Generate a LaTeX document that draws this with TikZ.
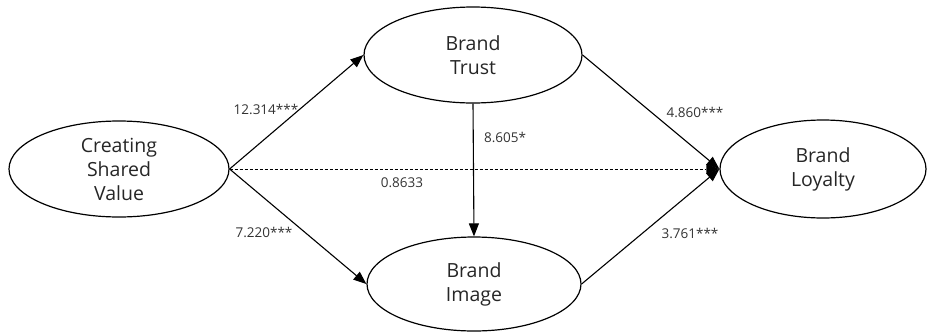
\documentclass[tikz,border=0pt]{standalone}
\usepackage{fontspec}
\setmainfont{Open Sans}
\usetikzlibrary{shapes.geometric,arrows.meta}
\begin{document}
\begin{tikzpicture}[x=1pt,y=-1pt,
  latent/.style={draw=black,line width=1.2pt,ellipse,inner sep=0pt,
    font=\fontsize{19.5}{24}\selectfont,text=black!85,align=center},
  path/.style={line width=1.1pt,-{Triangle[length=13pt,width=10pt]}},
  coef/.style={font=\fontsize{13.5}{15}\selectfont,text=black!80}]
\useasboundingbox (0,0) rectangle (927,333);
\node[latent,minimum width=220pt,minimum height=96pt] (csv) at (119,169) {Creating\\Shared\\Value};
\node[latent,minimum width=218pt,minimum height=96pt] (trust) at (473,55) {Brand\\Trust};
\node[latent,minimum width=214pt,minimum height=94pt] (image) at (474,284) {Brand\\Image};
\node[latent,minimum width=206pt,minimum height=98pt] (loyal) at (823,169) {Brand\\Loyalty};
\draw[path] (csv.east) -- (trust.west);
\draw[path] (csv.east) -- (image.west);
\draw[line width=0.9pt,dash pattern=on 3pt off 2pt,-{Triangle[length=13pt,width=10pt,sep=0pt,line width=0pt]}] (csv.east) -- (loyal.west);
\draw[path] (trust.south) -- (image.north);
\draw[path] (trust.east) -- (loyal.west);
\draw[path] (image.east) -- (loyal.west);
\node[coef] (l1) at (266,109) {12.314***};
\node[coef] (l2) at (264,232) {7.220***};
\node[coef] (l3) at (505,137) {8.605*};
\node[coef] (l4) at (402,183) {0.8633};
\node[coef] (l5) at (695,112) {4.860***};
\node[coef] (l6) at (690,233) {3.761***};
\end{tikzpicture}
\end{document}
